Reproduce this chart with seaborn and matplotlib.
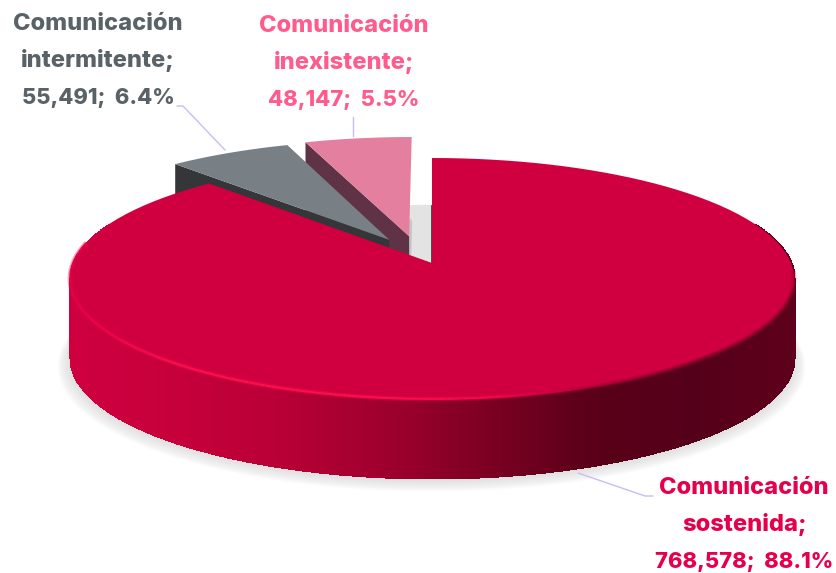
import numpy as np
import matplotlib
matplotlib.use('Agg')
import matplotlib.pyplot as plt
from matplotlib.patches import Polygon
from matplotlib.collections import LineCollection
import seaborn as sns

names = [['Comunicación', 'sostenida;'], ['Comunicación', 'intermitente;'], ['Comunicación', 'inexistente;']]
values = [768578, 55491, 48147]
explode = [0, 0.235, 0.235]
top_colors = ['#d00040', '#788085', '#e57f9f']
side_colors = ['#5e001c', '#34363a', '#5f3345']
text_colors = ['#e6004c', '#596267', '#ff5c8d']
label_xy = [(744, 525), (98, 61), (344, 63)]

# side wall colours of the big slice, left to right
wall_stops = ['#cf0040', '#c6003b', '#b90036', '#a0002e', '#7d0022', '#5a0019', '#55001a', '#5e001c']
rim_stops = ['#e80048', '#ff1050', '#ff1050', '#ff1050', '#f40a4e', '#b8003c', '#8a002c', '#9a0030']

# fake 3d: unit disc -> screen pixels
cx, cy = 432, 263
A, B, k = 359, 118.5, 0.1286
depth = 80


def project(u, v):
    w = 1 + k * v
    return np.column_stack([cx + A * u / w, cy - B * v / w])


def arc(wedge, n=120):
    t = np.radians(np.linspace(wedge.theta1, wedge.theta2, n))
    x0, y0 = wedge.center
    return x0 + wedge.r * np.cos(t), y0 + wedge.r * np.sin(t)


sns.set_theme(style='white')
plt.rcParams['font.family'] = ['Inter', 'DejaVu Sans']

fig = plt.figure(figsize=(8.37, 5.73), dpi=100)
ax = fig.add_axes([0, 0, 1, 1])

wedges, _ = ax.pie(values, explode=explode, startangle=90, counterclock=False, radius=1)
geom = []
for w in wedges:
    geom.append(w)
    w.set_visible(False)

# pink slice sits a bit further left in the original
geom[2].set_center((geom[2].center[0] - 0.025, geom[2].center[1]))

faces = []
for w in geom:
    u, v = arc(w)
    pts = project(u, v)
    apex = project(np.array([w.center[0]]), np.array([w.center[1]]))
    faces.append(np.vstack([apex, pts]))

ax.set_xlim(0, 837)
ax.set_ylim(573, 0)
ax.set_aspect('auto')
ax.axis('off')

# soft shadow under everything
for i in range(14):
    for face, grow in zip(faces, [1.0, 0.3, 0.45]):
        c = face.mean(axis=0)
        pts = (face - c) * (1 + 0.0026 * i * grow) + c
        pts = pts + [0, depth + 1 + i * 0.6 * grow]
        ax.add_patch(Polygon(pts, closed=True, fc='#8c8c8c', ec='none', alpha=0.018, zorder=1))
    # shadow that shows in the notch of the big slice
    c = faces[2].mean(axis=0)
    pts = (faces[2] - c) * (1 + 0.012 * i) + c + [20, 68]
    ax.add_patch(Polygon(pts, closed=True, fc='#8c8c8c', ec='none', alpha=0.016, zorder=1))

# pink slice, then grey
for idx, z in [(2, 2), (1, 4)]:
    face = faces[idx]
    apex, outer_left = face[0], face[1] if face[1, 0] < face[-1, 0] else face[-1]
    wall = np.array([apex, outer_left, outer_left + [0, depth], apex + [0, depth]])
    ax.add_patch(Polygon(wall, closed=True, fc=side_colors[idx], ec='none', zorder=z))
    ax.add_patch(Polygon(face, closed=True, fc=top_colors[idx], ec='none', zorder=z + 1))

# big slice wall as thin vertical strips
palette = sns.blend_palette(wall_stops, 256)
rim_palette = sns.blend_palette(rim_stops, 256)
t = np.radians(np.linspace(-200, 20, 700))
front = project(np.cos(t), np.sin(t))
for a, b in zip(front[:-1], front[1:]):
    idx = int(np.clip((a[0] - 68) / (796 - 68) * 255, 0, 255))
    quad = [a, b + [1, 0], b + [1, depth], a + [0, depth]]
    ax.add_patch(Polygon(quad, closed=True, fc=palette[idx], ec='none', antialiased=False, zorder=6))

ax.add_patch(Polygon(faces[0], closed=True, fc=top_colors[0], ec='none', zorder=7))

t_rim = np.radians(np.linspace(-190, -4, 500))
rim = project(np.cos(t_rim), np.sin(t_rim))
segs = np.stack([rim[:-1], rim[1:]], axis=1)
seg_colors = [rim_palette[int(np.clip((s[0, 0] - 68) / (796 - 68) * 255, 0, 255))] for s in segs]
ax.add_collection(LineCollection(segs, colors=seg_colors, linewidths=3.4, alpha=0.35, zorder=8))
ax.add_collection(LineCollection(segs, colors=seg_colors, linewidths=1.4, zorder=8))

# thin dark edge of the notch
ax.plot([431.5, 431.5], [205, 263], color='#4a4a4a', lw=0.7, zorder=6)

# leader lines
leader_x = [[578, 645, 653], [225, 183, 177], [353, 353]]
leader_y = [[473, 496, 496], [150, 106, 106], [136, 117]]
for lx, ly in zip(leader_x, leader_y):
    ax.plot(lx, ly, color='#cbbcec', lw=1.0, zorder=9, solid_capstyle='round')

# name lines are wide in the original font, number line is not
total = sum(values)
for name, val, col, (lx, ly) in zip(names, values, text_colors, label_xy):
    number = f'{val:,};  {val / total * 100:.1f}%'
    for i, (line, size) in enumerate(zip(name + [number], [17, 17, 15.8])):
        ax.text(lx, ly + (i - 1) * 37, line, color=col, fontsize=size,
                fontweight=800, ha='center', va='center', zorder=10)

fig.savefig('out.png', dpi=100, facecolor='white')
